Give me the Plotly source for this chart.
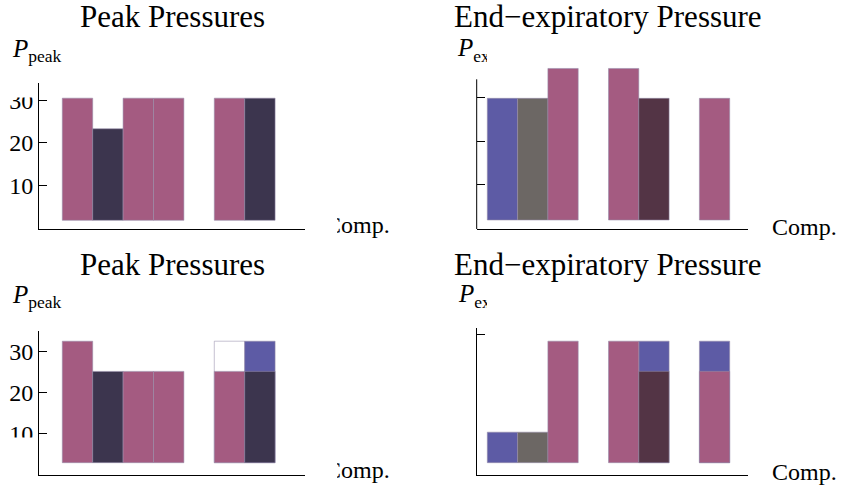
import plotly.graph_objects as go

W, H = 841, 489
FONT = "Liberation Serif"

# ---------------- data ----------------
slots_left = [1, 2, 3, 4, 5, 6, 7]
slots_right = [1, 2, 3, 4, 5, 6, 7, 8]

PINK = "#A45B81"
DARK = "#3C354E"
BLUE = "#5D5BA5"
GRAY = "#6C6764"
MAROON = "#533445"
WHITE = "#FFFFFF"

# top-left: Peak Pressures
peak_top_vals = [30.5, 23.3, 30.5, 30.5, None, 30.5, 30.5]
peak_top_cols = [PINK, DARK, PINK, PINK, PINK, PINK, DARK]
peak_top_base = 1.76

# top-right: End-expiratory Pressure
pex_top_vals = [29.9, 29.9, 36.8, None, 36.8, 29.9, None, 29.9]
pex_top_cols = [BLUE, GRAY, PINK, PINK, PINK, MAROON, PINK, PINK]
pex_top_base = 1.78

# bottom-left: Peak Pressures (back layer + front layer)
peak_bot_back_vals = [None, None, None, None, None, 32.6, 32.6]
peak_bot_back_cols = [WHITE, WHITE, WHITE, WHITE, WHITE, WHITE, BLUE]
peak_bot_front_vals = [32.6, 25.2, 25.2, 25.2, None, 25.2, 25.2]
peak_bot_front_cols = [PINK, DARK, PINK, PINK, PINK, PINK, DARK]
peak_bot_base = 2.82

# bottom-right: End-expiratory Pressure (back layer + front layer)
pex_bot_back_vals = [None, None, None, None, None, 32.6, None, 32.6]
pex_bot_back_cols = [BLUE] * 8
pex_bot_front_vals = [10.3, 10.3, 32.6, None, 32.6, 25.2, None, 25.2]
pex_bot_front_cols = [BLUE, GRAY, PINK, PINK, PINK, MAROON, PINK, PINK]
pex_bot_base = 2.82

y_ticks = [10, 20, 30]
pex_bot_ticks = [34.2]

titles = ["Peak Pressures", "End\u2212expiratory Pressure"]
ylabels = ["<i>P</i><sub>peak</sub>", "<i>P</i><sub>ex</sub>"]
xlabel = "Comp."

# ---------------- layout helpers ----------------
def px(x):
    return x / W


def py(y):
    return 1 - y / H


EDGE = dict(color="rgba(150,140,170,0.55)", width=1)


def bars(x, tops, base, cols, ax):
    return go.Bar(
        x=x,
        y=[None if t is None else t - base for t in tops],
        base=base,
        width=1,
        marker=dict(color=cols, line=EDGE),
        showlegend=False,
        hoverinfo="skip",
        xaxis="x" + ax,
        yaxis="y" + ax,
    )


fig = go.Figure()
fig.add_trace(bars(slots_left, peak_top_vals, peak_top_base, peak_top_cols, ""))
fig.add_trace(bars(slots_right, pex_top_vals, pex_top_base, pex_top_cols, "2"))
fig.add_trace(bars(slots_left, peak_bot_back_vals, peak_bot_base, peak_bot_back_cols, "3"))
fig.add_trace(bars(slots_left, peak_bot_front_vals, peak_bot_base, peak_bot_front_cols, "3"))
fig.add_trace(bars(slots_right, pex_bot_back_vals, pex_bot_base, pex_bot_back_cols, "4"))
fig.add_trace(bars(slots_right, pex_bot_front_vals, pex_bot_base, pex_bot_front_cols, "4"))

# yd = (plot-area top px, bottom px); line_top = where the drawn y axis line starts
panels = {
    "": dict(xd=(39, 305), yd=(83.3, 229.3), xr=(-0.266, 8.484), yr=(-0.353, 34.0),
             tv=y_ticks, labels=True, line_top=None),
    "2": dict(xd=(476.7, 748), yd=(64, 229), xr=(0.150, 9.104), yr=(-0.30, 37.83),
              tv=y_ticks, labels=False, line_top=79.3),
    "3": dict(xd=(39, 305), yd=(331, 475), xr=(-0.266, 8.484), yr=(-0.196, 35.1),
              tv=y_ticks, labels=True, line_top=None),
    "4": dict(xd=(476.7, 748), yd=(327.7, 475), xr=(0.150, 9.104), yr=(-0.196, 35.9),
              tv=pex_bot_ticks, labels=False, line_top=None),
}

layout = dict(
    width=W, height=H, autosize=False,
    margin=dict(l=0, r=0, t=0, b=0),
    paper_bgcolor="white", plot_bgcolor="rgba(0,0,0,0)",
    barmode="overlay", showlegend=False,
    font=dict(family=FONT, color="black"),
)
shapes = []
for k, p in panels.items():
    layout["xaxis" + k] = dict(
        domain=[px(p["xd"][0]), px(p["xd"][1])], range=list(p["xr"]),
        anchor="y" + k, showline=True, linecolor="black", linewidth=1,
        ticks="", showticklabels=False, showgrid=False, zeroline=False,
        fixedrange=True,
    )
    layout["yaxis" + k] = dict(
        domain=[py(p["yd"][1]), py(p["yd"][0])], range=list(p["yr"]),
        anchor="x" + k, showline=p["line_top"] is None, linecolor="black", linewidth=1,
        ticks="inside", ticklen=8, tickwidth=1, tickcolor="black",
        tickvals=p["tv"], ticktext=[str(v) for v in p["tv"]],
        showticklabels=p["labels"], ticksuffix="\u00a0\u200a",
        tickfont=dict(family=FONT, size=24, color="black"),
        showgrid=False, zeroline=False, fixedrange=True,
    )
    if p["line_top"] is not None:
        shapes.append(dict(type="line", xref="paper", yref="paper",
                           x0=px(p["xd"][0]), x1=px(p["xd"][0]),
                           y0=py(p["yd"][1]), y1=py(p["line_top"]),
                           line=dict(color="black", width=1), layer="above"))

# helper pixel-space axes for labels that are clipped in the reference
layout["xaxis5"] = dict(domain=[0, 1], range=[0, W], anchor="y5", visible=False, fixedrange=True)
layout["yaxis5"] = dict(domain=[0, 1], range=[H, 0], anchor="x5", visible=False, fixedrange=True)
fig.update_layout(**layout)

clip_x = [325, 325, 458, 459]
clip_y = [227, 472, 50, 296]
clip_t = [xlabel, xlabel, ylabels[1], ylabels[1]]
clip_sz = [24, 24, 25, 25]
fig.add_trace(go.Scatter(
    x=clip_x, y=clip_y, text=clip_t, mode="text", textposition="middle right",
    textfont=dict(family=FONT, size=clip_sz, color="black"),
    cliponaxis=False, showlegend=False, hoverinfo="skip", xaxis="x5", yaxis="y5",
))

ann = []
def add_text(t, x, y, size, xanchor="center"):
    ann.append(dict(text=t, x=px(x), y=py(y), xref="paper", yref="paper",
                    xanchor=xanchor, yanchor="middle", showarrow=False,
                    font=dict(family=FONT, size=size, color="black")))

add_text(titles[0], 172, 17, 31)
add_text(titles[1], 607.5, 17, 31)
add_text(titles[0], 172, 264, 31)
add_text(titles[1], 607.5, 264, 31)
add_text(ylabels[0], 10, 51, 25, "left")
add_text(ylabels[0], 10, 296, 25, "left")
add_text(xlabel, 770, 227, 24, "left")
add_text(xlabel, 770, 472, 24, "left")
fig.update_layout(annotations=ann)

# white masks reproducing the clipping seen in the reference
masks = [(0, 66, 36, 97.5), (0, 437.5, 36, 462), (310, 210, 337, 245),
         (310, 455, 337, 489), (487, 34, 530, 64), (487, 280, 530, 312)]
for x0, y0, x1, y1 in masks:
    shapes.append(dict(type="rect", xref="paper", yref="paper", x0=px(x0), x1=px(x1),
                       y0=py(y1), y1=py(y0), fillcolor="white", line=dict(width=0),
                       layer="above"))
fig.update_layout(shapes=shapes)

fig.write_html("out.html", config={"displayModeBar": False},
               post_script="document.body.style.margin='0';")
